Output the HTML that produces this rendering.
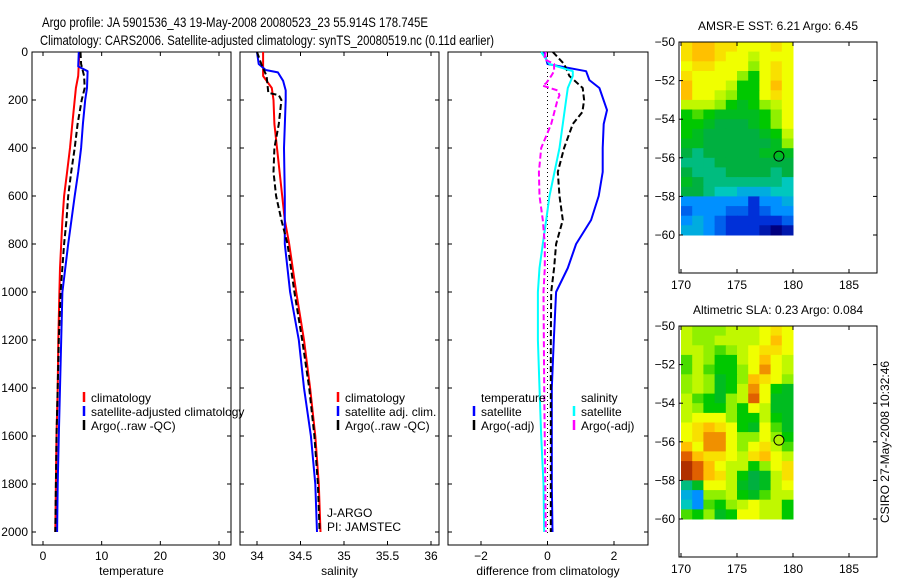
<!DOCTYPE html>
<html><head><meta charset="utf-8">
<style>
html,body{margin:0;padding:0;background:#fff;}
svg{display:block;font-family:"Liberation Sans",sans-serif;}
</style></head>
<body>
<svg id="fig" width="900" height="580" viewBox="0 0 900 580">
<text x="42" y="27" font-size="14" textLength="386" lengthAdjust="spacingAndGlyphs">Argo profile: JA 5901536_43 19-May-2008 20080523_23 55.914S 178.745E</text>
<text x="40" y="45" font-size="14" textLength="454" lengthAdjust="spacingAndGlyphs">Climatology: CARS2006. Satellite-adjusted climatology: synTS_20080519.nc (0.11d earlier)</text>
<g id="root"></g>
</svg>
<script>
// ---------- DATA ----------
const depthTicks = [0,200,400,600,800,1000,1200,1400,1600,1800,2000];
const tempTicks = [0,10,20,30];
const salTicks = [34,34.5,35,35.5,36];
const salTickLabels = ["34","34.5","35","35.5","36"];
const diffTicks = [-2,0,2];
const lonTicks = [170,175,180,185];
const latTicks = [-50,-52,-54,-56,-58,-60];

const tClimDepth = [0,50,100,150,200,300,400,500,600,700,800,900,1000,1200,1400,1600,1800,2000];
const tClim =      [6.2,6.1,6.0,5.6,5.4,5.0,4.6,4.1,3.6,3.3,3.1,2.9,2.8,2.6,2.5,2.3,2.2,2.1];
const tSatDepth = [0,60,80,150,200,300,400,500,600,800,1000,1200,1400,1600,1800,2000];
const tSat =      [6.1,6.0,7.6,7.5,7.2,6.8,6.5,6.0,5.4,4.3,3.3,3.1,2.9,2.7,2.5,2.4];
const tArgoDepth = [0,50,100,150,200,300,400,500,600,700,800,1000,1200,1400,1600,1800,2000];
const tArgo =      [6.4,6.5,7.0,7.1,6.6,5.9,5.4,4.8,4.3,4.0,3.6,3.0,2.7,2.5,2.3,2.2,2.1];

const sClimDepth = [0,100,150,200,300,400,500,600,700,800,1000,1200,1400,1600,1800,2000];
const sClim =      [34.07,34.07,34.17,34.19,34.2,34.23,34.26,34.29,34.32,34.37,34.45,34.54,34.61,34.67,34.71,34.73];
const sSatDepth = [0,50,75,85,120,160,200,400,600,800,1000,1200,1400,1600,1800,2000];
const sSat =      [34.0,34.02,34.1,34.24,34.3,34.33,34.33,34.31,34.32,34.32,34.38,34.48,34.54,34.62,34.67,34.69];
const sArgoDepth = [0,50,100,170,180,200,300,400,500,600,700,800,1000,1200,1400,1600,1800,2000];
const sArgo =      [34.0,34.05,34.11,34.13,34.25,34.28,34.25,34.2,34.19,34.22,34.28,34.35,34.43,34.52,34.6,34.66,34.7,34.72];

const dTSatDepth = [0,50,80,117,150,242,300,400,500,600,700,800,900,1000,1200,1400,1600,1800,2000];
const dTSat =      [-0.1,0.0,1.16,1.26,1.56,1.79,1.69,1.66,1.66,1.54,1.31,0.86,0.61,0.26,0.19,0.13,0.13,0.13,0.15];
const dTArgoDepth = [0,50,100,150,200,250,300,400,500,600,700,800,900,1000,1200,1600,2000];
const dTArgo =      [0.16,0.5,0.66,1.06,1.1,1.05,0.76,0.5,0.31,0.36,0.46,0.26,0.2,0.11,0.1,0.1,0.1];
const dSSatDepth = [0,50,80,100,150,200,300,400,500,600,700,800,900,1000,1200,1400,1600,1800,2000];
const dSSat =      [-0.19,0.06,0.76,0.76,0.61,0.56,0.46,0.36,0.21,0.06,-0.04,-0.14,-0.24,-0.29,-0.29,-0.24,-0.19,-0.12,-0.1];
const dSArgoDepth = [0,30,50,80,100,130,140,160,180,200,300,400,500,600,700,800,900,1000,1400,2000];
const dSArgo =      [-0.05,-0.1,0.2,0.2,0.11,-0.04,-0.15,0.3,0.36,0.3,0.11,-0.19,-0.26,-0.24,-0.14,-0.08,-0.08,-0.12,-0.1,-0.05];

// map grids: 10 columns (170..180, 1deg), 20 rows (-50..-60, 0.5deg), colour index 0..10
const sstGrid = [
[7.5,8,8,7.5,7.5,7,7,7,7.5,7],
[7.5,8,8,7.5,7,7,6.5,7,7,7],
[7,7.5,7.5,7,7,7,6,7,7.5,7],
[7.5,7,7,7,7,6,5,7,7.5,7],
[8,7,7,7,6.5,5,5,7,8,7],
[8,7,7,6.5,6,5,5,7,7.5,7],
[6.5,6.5,6.5,6,5,4.5,5,6,6.5,7],
[5,5.5,5,4.5,4.5,4.5,4.5,5,6,7],
[5,5,4.5,4,4,4,4.5,5,6,7],
[5,4.5,4,4,4,4,4,4.5,5,6.5],
[4.5,4.5,4,4,4,4,4,4,4.5,6],
[4,3.5,4,4,4,4,4,4.5,4.5,4.5],
[3.5,3.5,3.5,4,4,4,4,4,4,4],
[4,3.5,3.5,3.5,4,4,4,4,3.5,4],
[4.5,4,3.5,3.5,3.5,3.5,3.5,3.5,3.5,3],
[4,4,3.5,3,3,2.5,2.5,2.5,3,3],
[2,2,2,2,2,2,1,2,2,2.5],
[1.5,2,2,2,1.5,1.5,1,1.5,2,2],
[2,2.5,2,1.5,1,1,1,1,1,1.5],
[2.5,2.5,2,1.5,1,1,1,0.5,0,0.5]];
const slaGrid = [
[6.5,6,6,6,6.5,6.5,6.5,7,7.5,7],
[6.5,6,6,6.5,6.5,6.5,6.5,7,8,7],
[6.5,6.5,6,5.5,6,6.5,7,7.5,7.5,7],
[5.5,6.5,6,5,5,6.5,7,8,7,6.5],
[5.5,6.5,5.5,5,5,6,7,8.5,7,6.5],
[6,6.5,6,4.5,5,6,8,7.5,7,6],
[6,6.5,6,4.5,5,6.5,8.5,7,5,4.5],
[6.5,5.5,5,4.5,6,6.5,9,7,4.5,4.5],
[6.5,6,5,5,6,5,7,6.5,4.5,4.5],
[6.5,7,7,7,6,5,5,6.5,5,4.5],
[7,7.5,8,7.5,7,5,4.5,7,5.5,4.5],
[7,7.5,8.5,8.5,7,6,6,7,6,5],
[8,7,8.5,8.5,7,6,7,7.5,6.5,5.5],
[9,8,7.5,7.5,7,6.5,7.5,8,7,6.5],
[9.5,9,8,7,6.5,6.5,5,6,7,7.5],
[9.5,9,8,7.5,6.5,5,4,4.5,6.5,7.5],
[3.5,4.5,7,7,6.5,4.5,4,4.5,6.5,7],
[2.5,2,6,6,6.5,5,4.5,5.5,6.5,6.5],
[3,2,5.5,5,6,6.5,7,6.5,6.5,5],
[5.5,5,6,4.5,5,7,7,6.5,6.5,5]];
const argoLon = 178.745, argoLat = -55.914;

// ---------- DRAW ----------
const NS="http://www.w3.org/2000/svg";
const root=document.getElementById('root');
function mk(tag,attrs,parent){const e=document.createElementNS(NS,tag);for(const k in attrs)e.setAttribute(k,attrs[k]);(parent||root).appendChild(e);return e;}
function lin(d0,d1,p0,p1){return v=>p0+(v-d0)*(p1-p0)/(d1-d0);}

const yD = lin(0,2000,52,532);
const panels=[
 {x0:32,x1:231,sx:lin(0,30,43,219),ticks:tempTicks,labels:tempTicks.map(String),title:"temperature",name:"temperature-panel",ylab:true},
 {x0:240,x1:439,sx:lin(34,36,257,431),ticks:salTicks,labels:salTickLabels,title:"salinity",name:"salinity-panel"},
 {x0:448,x1:648,sx:lin(-2,2,481,614),ticks:diffTicks,labels:diffTicks.map(v=>v<0?"\u2212"+(-v):String(v)),title:"difference from climatology",name:"difference-panel"}];
const pTop=52,pBot=545;

function frame(p,g){
  mk('rect',{x:p.x0,y:pTop,width:p.x1-p.x0,height:pBot-pTop,fill:'none',stroke:'#000','stroke-width':1},g);
  p.ticks.forEach((t,i)=>{const x=p.sx(t);
    mk('line',{x1:x,y1:pBot,x2:x,y2:pBot-4,stroke:'#000'},g);
    mk('line',{x1:x,y1:pTop,x2:x,y2:pTop+4,stroke:'#000'},g);
    const tx=mk('text',{x:x,y:pBot+15,'font-size':12,'text-anchor':'middle'},g);tx.textContent=p.labels[i];
    
    
  });
  depthTicks.forEach(d=>{const y=yD(d);
    mk('line',{x1:p.x0,y1:y,x2:p.x0+4,y2:y,stroke:'#000'},g);
    mk('line',{x1:p.x1,y1:y,x2:p.x1-4,y2:y,stroke:'#000'},g);
    if(p.ylab){const tx=mk('text',{x:28,y:y+4,'font-size':12,'text-anchor':'end'},g);tx.textContent=d;
      
      }
  });
  const t=mk('text',{x:(p.x0+p.x1)/2,y:575,'font-size':12,'text-anchor':'middle'},g);t.textContent=p.title;
  
  
}
function series(p,g,depths,vals,color,dash,name){
  const pts=depths.map((d,i)=>p.sx(vals[i]).toFixed(1)+","+yD(d).toFixed(1)).join(" ");
  const pl=mk('polyline',{points:pts,fill:'none',stroke:color,'stroke-width':2,'stroke-dasharray':dash||'none','stroke-linejoin':'round'},g);
  
  
}
function legend(g,x,y,color,label,name){
  mk('line',{x1:x,y1:y-6,x2:x,y2:y+4,stroke:color,'stroke-width':2.5},g);
  const t=mk('text',{x:x+7,y:y+4,'font-size':12},g);t.textContent=label;
  
  
}

panels.forEach((p,idx)=>{
  const g=mk('g',{});
  
  
  frame(p,g);
  if(idx===0){
    series(p,g,tClimDepth,tClim,'#f00',null,'temp-climatology-line');
    series(p,g,tSatDepth,tSat,'#00f',null,'temp-satellite-line');
    series(p,g,tArgoDepth,tArgo,'#000','6,3','temp-argo-line');
    legend(g,84,398,'#f00','climatology','legend-climatology');
    legend(g,84,412,'#00f','satellite-adjusted climatology','legend-satellite');
    legend(g,84,426,'#000','Argo(..raw -QC)','legend-argo');
  } else if(idx===1){
    series(p,g,sClimDepth,sClim,'#f00',null,'sal-climatology-line');
    series(p,g,sSatDepth,sSat,'#00f',null,'sal-satellite-line');
    series(p,g,sArgoDepth,sArgo,'#000','6,3','sal-argo-line');
    legend(g,338,398,'#f00','climatology','legend-climatology');
    legend(g,338,412,'#00f','satellite adj. clim.','legend-satellite');
    legend(g,338,426,'#000','Argo(..raw -QC)','legend-argo');
    const a=mk('text',{x:327,y:517,'font-size':12},g);a.textContent='J-ARGO';
    
    
    const b=mk('text',{x:327,y:531,'font-size':12},g);b.textContent='PI: JAMSTEC';
    
    
  } else {
    const z=p.sx(0);
    mk('line',{x1:z,y1:pTop,x2:z,y2:pBot-12,stroke:'#000','stroke-dasharray':'1,3'},g);
    series(p,g,dTSatDepth,dTSat,'#00f',null,'diff-temp-satellite-line');
    series(p,g,dTArgoDepth,dTArgo,'#000','6,3','diff-temp-argo-line');
    series(p,g,dSSatDepth,dSSat,'#0ff',null,'diff-sal-satellite-line');
    series(p,g,dSArgoDepth,dSArgo,'#f0f','6,3','diff-sal-argo-line');
    const t1=mk('text',{x:481,y:402,'font-size':12},g);t1.textContent='temperature';
    
    
    const t2=mk('text',{x:581,y:402,'font-size':12},g);t2.textContent='salinity';
    
    
    legend(g,474,412,'#00f','satellite','legend-temp-satellite');
    legend(g,474,426,'#000','Argo(-adj)','legend-temp-argo');
    legend(g,574,412,'#0ff','satellite','legend-sal-satellite');
    legend(g,574,426,'#f0f','Argo(-adj)','legend-sal-argo');
  }
});

// colormap
const cmap=[[0,0,127],[0,48,216],[0,144,255],[0,200,190],[0,176,64],[0,200,0],[144,240,0],[240,255,0],[255,192,0],[224,96,0],[128,0,0]];
function col(v){v=Math.max(0,Math.min(10,v));const i=Math.min(9,Math.floor(v)),f=v-i;
  const a=cmap[i],b=cmap[i+1];return 'rgb('+a.map((c,k)=>Math.round(c+(b[k]-c)*f)).join(',')+')';}

function map(top,bottom,grid,title,name,circleFill){
  const g=mk('g',{});
  
  
  const x0=679,x1=877;
  const sx=lin(170,180,681,793), sy=lin(-50,-60,top,top+193);
  const ncol=grid[0].length,nrow=grid.length;
  grid.forEach((row,r)=>row.forEach((v,c)=>{
    const lon0=170+c*10/ncol, lat0=-50-r*10/nrow;
    const xa=Math.max(x0,sx(lon0)), xb=sx(lon0+10/ncol), ya=sy(lat0), yb=sy(lat0-10/nrow);
    const rc=mk('rect',{x:xa.toFixed(1),y:ya.toFixed(1),width:(xb-xa+0.5).toFixed(1),height:(yb-ya+0.5).toFixed(1),fill:col(v)},g);
    
    
  }));
  mk('rect',{x:x0,y:top,width:x1-x0,height:bottom-top,fill:'none',stroke:'#000'},g);
  lonTicks.forEach(t=>{const x=sx(t);
    mk('line',{x1:x,y1:bottom,x2:x,y2:bottom-4,stroke:'#000'},g);
    mk('line',{x1:x,y1:top,x2:x,y2:top+4,stroke:'#000'},g);
    const tx=mk('text',{x:x,y:bottom+16,'font-size':12,'text-anchor':'middle'},g);tx.textContent=t;
    
    });
  latTicks.forEach(t=>{const y=sy(t);
    mk('line',{x1:x0,y1:y,x2:x0+4,y2:y,stroke:'#000'},g);
    mk('line',{x1:x1,y1:y,x2:x1-4,y2:y,stroke:'#000'},g);
    const tx=mk('text',{x:675,y:y+4,'font-size':12,'text-anchor':'end'},g);tx.textContent='\u2212'+(-t);
    
    });
  const tt=mk('text',{x:778,y:top-12,'font-size':12,'text-anchor':'middle'},g);tt.textContent=title;
  
  
  const c=mk('circle',{cx:sx(argoLon),cy:sy(argoLat),r:5,fill:circleFill,stroke:'#000'},g);
  
  
}
map(42,273,sstGrid,'AMSR-E SST: 6.21 Argo: 6.45','sst-map','none');
map(326,557,slaGrid,'Altimetric SLA: 0.23 Argo: 0.084','sla-map','rgb(176,240,0)');

const st=mk('text',{x:0,y:0,'font-size':12,'text-anchor':'middle',transform:'translate(889,442) rotate(-90)'});
st.textContent='CSIRO 27-May-2008 10:32:46';


</script>
</body></html>
